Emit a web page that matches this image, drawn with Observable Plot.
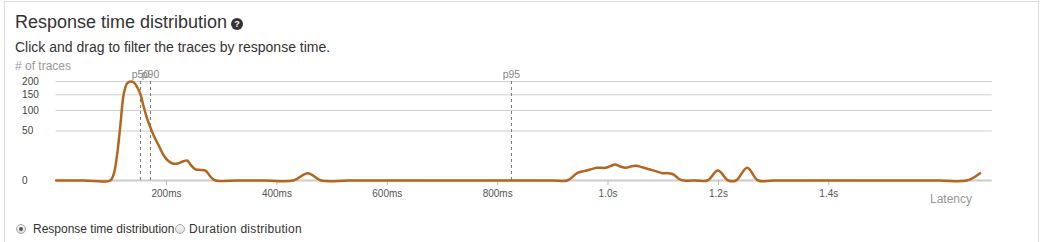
<!DOCTYPE html>
<html>
<head>
<meta charset="utf-8">
<script src="https://cdn.jsdelivr.net/npm/d3@7"></script>
<script src="https://cdn.jsdelivr.net/npm/@observablehq/plot@0.6"></script>
<style>
  html, body { margin: 0; padding: 0; background: #fff; width: 1043px; height: 242px; overflow: hidden; }
  body { font-family: "Liberation Sans", Arial, sans-serif; position: relative; }
  .abs { position: absolute; line-height: 1; white-space: nowrap; }
  #panel { position: absolute; left: 4px; top: 1px; width: 1035px; height: 260px; border: 1px solid #ddd; box-sizing: border-box; }
  .q { display: inline-block; position: absolute; left: 231px; top: 18px; width: 12px; height: 12px; border-radius: 50%; background: #333; color: #fff; font-size: 9px; font-weight: bold; text-align: center; line-height: 12px; }
  .radio { position: absolute; width: 10px; height: 10px; border-radius: 50%; border: 1px solid #a6a6a6; background: linear-gradient(#f4f4f4, #dedede); box-sizing: border-box; }
  .radio.on::after { content: ""; position: absolute; left: 2px; top: 2px; width: 4px; height: 4px; border-radius: 50%; background: #555; }
  #chart { position: absolute; left: 0; top: 60px; }
</style>
</head>
<body>
<div id="panel"></div>
<div class="abs" style="left:15px;top:12.8px;font-size:18px;color:#333;">Response time distribution</div>
<span class="q">?</span>
<div class="abs" style="left:15px;top:40.2px;font-size:14px;color:#333;">Click and drag to filter the traces by response time.</div>
<div class="abs" style="left:15px;top:60.1px;font-size:12px;color:#999;"># of traces</div>
<div id="chart"></div>
<div class="abs" style="left:930px;top:193.4px;font-size:12px;color:#999;">Latency</div>
<span class="radio on" style="left:16px;top:224px;"></span>
<div class="abs" style="left:33px;top:223.3px;font-size:12px;color:#333;">Response time distribution</div>
<span class="radio" style="left:175px;top:224px;"></span>
<div class="abs" style="left:189px;top:223.3px;font-size:12px;color:#333;letter-spacing:0.3px;">Duration distribution</div>

<script>
// Latency (ms) and number of traces
const latencyMs = [0, 50, 98, 104.5, 110.7, 116.7, 122.6, 128.8, 134.8, 140.8, 146.9, 152.9, 158.9, 165, 171, 177, 186, 195, 204, 213, 222, 231, 237.5, 243.5, 252.5, 261.6, 270.7, 279.7, 289, 330, 380, 430, 456, 480, 530, 600, 700, 800, 900, 926, 944, 956, 968, 980, 995, 1004, 1013, 1022, 1032, 1041, 1050, 1062, 1074, 1086, 1098, 1110, 1119, 1128, 1137, 1160, 1180, 1199, 1218, 1232, 1252, 1272, 1300, 1400, 1500, 1600, 1650, 1674];
const traceCount = [0, 0, 0, 0.9, 14.5, 65.6, 153, 193, 200, 196, 178, 151, 110, 78, 57, 41, 25, 12.8, 7.6, 5.7, 6.1, 7.6, 8.2, 5.2, 2.5, 2.3, 2.0, 0.3, 0, 0, 0, 0, 1.1, 0, 0, 0, 0, 0, 0, 0, 1.1, 1.8, 2.5, 3.3, 3.3, 4.2, 5.2, 4.0, 3.3, 4.0, 4.4, 3.6, 2.6, 1.8, 1.1, 1.1, 0.73, 0.06, 0, 0, 0, 2.0, 0, 0, 3.3, 0, 0, 0, 0, 0, 0, 1.1];

// Percentile markers
const percentileNames = ["p50", "p90", "p95"];
const percentileMs = [153, 171, 825];

// Axis ticks
const xTicks = [200, 400, 600, 800, 1000, 1200, 1400];
const yTicks = [0, 50, 100, 150, 200];
const yGrid = [50, 100, 150, 200];

const series = latencyMs.map((x, i) => ({ x, y: traceCount[i] }));
const percentiles = percentileNames.map((name, i) => ({ name, x: percentileMs[i] }));
const fmtX = d => d < 1000 ? `${d}ms` : `${(d / 1000).toFixed(1)}s`;

const chart = Plot.plot({
  width: 1043,
  height: 150,
  marginLeft: 55.6,
  marginRight: 51.3,
  marginTop: 16.7,
  marginBottom: 30,
  style: { fontFamily: "'Liberation Sans', Arial, sans-serif", background: "transparent", overflow: "visible" },
  x: { domain: [0, 1696], axis: null },
  y: { type: "sqrt", domain: [0, 218], axis: null },
  marks: [
    Plot.ruleY(yGrid, { stroke: "#cfcfcf", strokeWidth: 1 }),
    Plot.ruleY([0], { stroke: "#cccccc", strokeWidth: 2 }),
    Plot.text(yTicks, { y: d => d, text: d => String(d), frameAnchor: "left", dx: -34, textAnchor: "start", fontSize: 10, fill: "#444" }),
    Plot.axisX({ ticks: xTicks, tickFormat: fmtX, tickSize: 5, tickPadding: 4, fontSize: 10, stroke: "#bbb", fill: "#555", label: null }),
    Plot.ruleX(percentiles, { x: "x", y1: 0, y2: 212, stroke: "#777", strokeWidth: 1, strokeDasharray: "3,3" }),
    Plot.text(percentiles, { x: "x", text: "name", frameAnchor: "top", dy: -6.5, fontSize: 10.5, fill: "#888" }),
    Plot.line(series, { x: "x", y: "y", curve: "catmull-rom", stroke: "#b5651d", strokeWidth: 2.5 })
  ]
});
document.getElementById("chart").appendChild(chart);
</script>
</body>
</html>
